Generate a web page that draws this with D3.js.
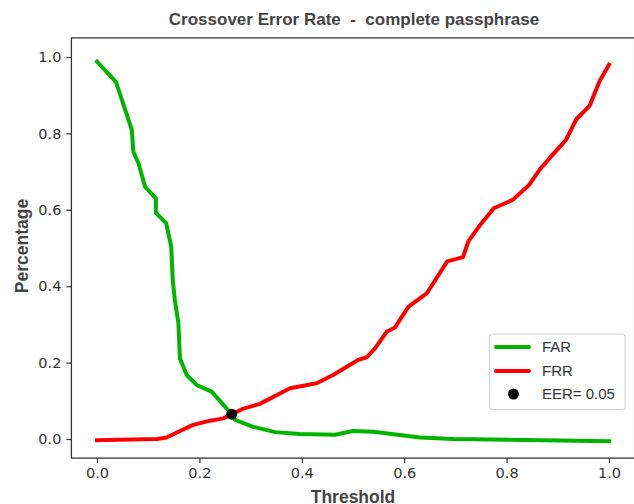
<!DOCTYPE html>
<html>
<head>
<meta charset="utf-8">
<script src="https://cdn.jsdelivr.net/npm/d3@7"></script>
<style>
  html, body { margin: 0; padding: 0; background: #fff; }
  svg { display: block; }
</style>
</head>
<body>
<script>
const farX = [0, 0.037, 0.068, 0.071, 0.081, 0.094, 0.115, 0.115, 0.135, 0.145, 0.148, 0.152, 0.159, 0.162, 0.175, 0.195, 0.224, 0.263, 0.270, 0.305, 0.348, 0.396, 0.465, 0.50, 0.54, 0.631, 0.696, 1.0];
const farY = [0.988, 0.935, 0.809, 0.752, 0.722, 0.660, 0.630, 0.592, 0.565, 0.503, 0.416, 0.364, 0.303, 0.211, 0.168, 0.141, 0.124, 0.065, 0.050, 0.032, 0.018, 0.013, 0.011, 0.021, 0.019, 0.004, 0.0, -0.006];
const frrX = [0, 0.117, 0.136, 0.159, 0.188, 0.221, 0.247, 0.264, 0.283, 0.318, 0.377, 0.429, 0.462, 0.51, 0.527, 0.543, 0.566, 0.582, 0.608, 0.644, 0.684, 0.715, 0.725, 0.747, 0.775, 0.812, 0.844, 0.865, 0.888, 0.916, 0.936, 0.962, 0.981, 1.0];
const frrY = [-0.003, 0.0, 0.004, 0.019, 0.037, 0.048, 0.054, 0.065, 0.078, 0.092, 0.133, 0.146, 0.168, 0.207, 0.214, 0.237, 0.281, 0.292, 0.346, 0.381, 0.465, 0.476, 0.517, 0.558, 0.604, 0.626, 0.665, 0.706, 0.741, 0.783, 0.837, 0.872, 0.935, 0.98];
const eerPoint = [0.263, 0.065];
const eerLabel = "EER= 0.05";
const xTicks = [0, 0.2, 0.4, 0.6, 0.8, 1.0];
const yTicks = [0, 0.2, 0.4, 0.6, 0.8, 1.0];
const titleText = "Crossover Error Rate  -  complete passphrase";
const xLabel = "Threshold";
const yLabel = "Percentage";

const W = 634, H = 504;
const green = "#00b400", red = "#ff0000", ink = "#333333";

const x = d3.scaleLinear().domain([-0.05, 1.05]).range([71.4, 634.6]);
const y = d3.scaleLinear().domain([-0.05, 1.05]).range([458.1, 37.9]);

const svg = d3.select("body").append("svg").attr("width", W).attr("height", H);
svg.append("rect").attr("width", W).attr("height", H).attr("fill", "#fff");

// lines
const line = d3.line().x(d => x(d[0])).y(d => y(d[1]));
const farData = farX.map((v, i) => [v, farY[i]]);
const frrData = frrX.map((v, i) => [v, frrY[i]]);
svg.append("path").datum(farData).attr("d", line).attr("fill", "none")
  .attr("stroke", green).attr("stroke-width", 4).attr("stroke-linejoin", "round").attr("stroke-linecap", "square");
svg.append("path").datum(frrData).attr("d", line).attr("fill", "none")
  .attr("stroke", red).attr("stroke-width", 4).attr("stroke-linejoin", "round").attr("stroke-linecap", "square");
svg.append("circle").attr("cx", x(eerPoint[0])).attr("cy", y(eerPoint[1])).attr("r", 5.5).attr("fill", "#000");

// axes
const xAxis = d3.axisBottom(x).tickValues(xTicks).tickFormat(d3.format(".1f")).tickSize(5).tickPadding(5);
const yAxis = d3.axisLeft(y).tickValues(yTicks).tickFormat(d3.format(".1f")).tickSize(5).tickPadding(5);
const gx = svg.append("g").attr("transform", `translate(0,${y(-0.05)})`).call(xAxis);
const gy = svg.append("g").attr("transform", `translate(${x(-0.05)},0)`).call(yAxis);
[gx, gy].forEach(g => {
  g.select(".domain").remove();
  g.selectAll(".tick line").attr("stroke", ink).attr("stroke-width", 1.2);
  g.selectAll(".tick text").attr("fill", ink).style("font-family", "DejaVu Sans").style("font-size", "14.5px");
});

// frame
svg.append("rect").attr("x", x(-0.05)).attr("y", y(1.05))
  .attr("width", x(1.05) - x(-0.05)).attr("height", y(-0.05) - y(1.05))
  .attr("fill", "none").attr("stroke", ink).attr("stroke-width", 1.3);

// title and labels
svg.append("text").attr("x", 354).attr("y", 25).attr("text-anchor", "middle")
  .style("font-family", "Liberation Sans, Arial").style("font-weight", "bold").style("font-size", "17px")
  .style("white-space", "pre").attr("xml:space", "preserve")
  .attr("fill", "#444").text(titleText);
svg.append("text").attr("x", 353).attr("y", 503).attr("text-anchor", "middle")
  .style("font-family", "Liberation Sans, Arial").style("font-weight", "bold").style("font-size", "17.5px")
  .attr("fill", "#444").text(xLabel);
svg.append("text").attr("transform", "translate(28,246) rotate(-90)").attr("text-anchor", "middle")
  .style("font-family", "Liberation Sans, Arial").style("font-weight", "bold").style("font-size", "17.5px")
  .attr("fill", "#444").text(yLabel);

// legend
const lg = svg.append("g");
lg.append("rect").attr("x", 489.5).attr("y", 334).attr("width", 135.5).attr("height", 75.5)
  .attr("rx", 3).attr("fill", "#fff").attr("fill-opacity", 0.8).attr("stroke", "#d0d0d0").attr("stroke-width", 1);
const items = [
  { label: "FAR", type: "line", color: green, yy: 347 },
  { label: "FRR", type: "line", color: red, yy: 371 },
  { label: eerLabel, type: "dot", color: "#000", yy: 394 }
];
items.forEach(it => {
  if (it.type === "line") {
    lg.append("line").attr("x1", 496).attr("x2", 529).attr("y1", it.yy).attr("y2", it.yy)
      .attr("stroke", it.color).attr("stroke-width", 4).attr("stroke-linecap", "round");
  } else {
    lg.append("circle").attr("cx", 513.5).attr("cy", it.yy).attr("r", 5.5).attr("fill", it.color);
  }
  lg.append("text").attr("x", 542).attr("y", it.yy).attr("dy", "0.36em")
    .style("font-family", "Liberation Sans, Arial").style("font-size", "15px")
    .attr("fill", "#333").text(it.label);
});
</script>
</body>
</html>
